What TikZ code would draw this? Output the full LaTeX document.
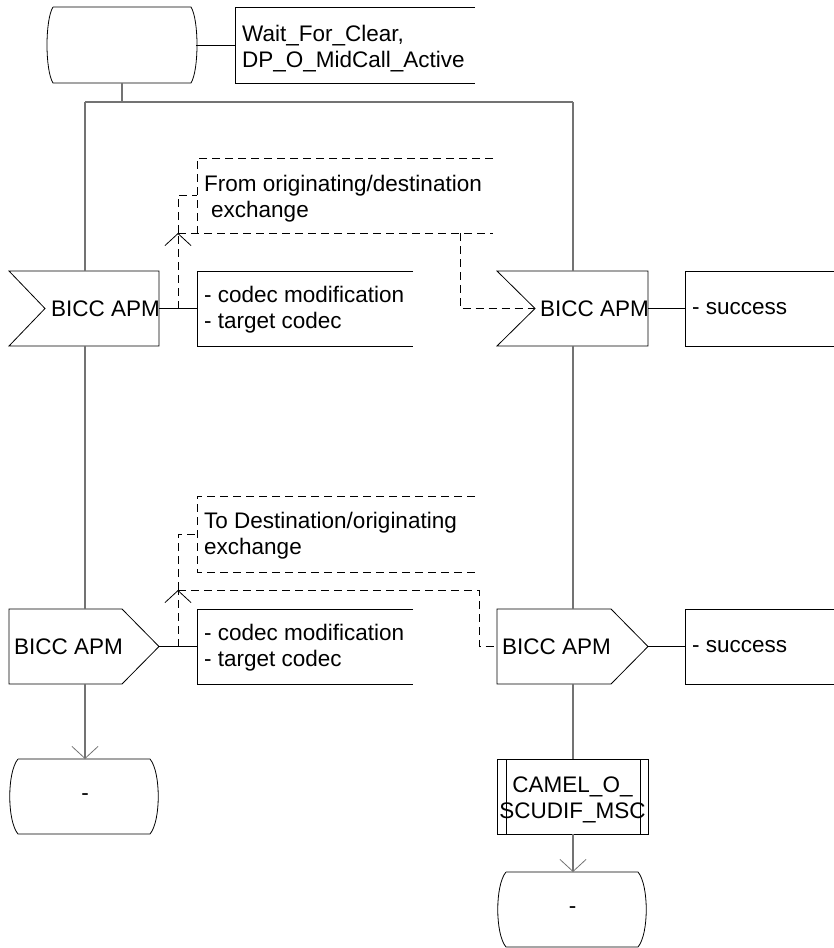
\documentclass[tikz,border=0pt]{standalone}
\usepackage{fontspec}
\setmainfont{Liberation Sans}
\usetikzlibrary{arrows.meta}
\begin{document}
\begin{tikzpicture}[x=1pt,y=-1pt,
  shp/.style={draw=black,line width=0.8pt,line join=miter},
  flow/.style={draw=black!55,line width=1.1pt},
  link/.style={draw=black,line width=0.8pt},
  dsh/.style={draw=black,line width=0.8pt,dash pattern=on 8pt off 5pt},
  barb/.style={-{Straight Barb[length=12pt,width=26pt,line width=0.8pt]}},
  txt/.style={font=\fontsize{22.5}{26}\selectfont,inner sep=0pt,anchor=west,align=left},
  ctxt/.style={font=\fontsize{22.5}{26}\selectfont,inner sep=0pt,align=center}]
\useasboundingbox (0,0) rectangle (834,948);

% ---------- top start state ----------
\draw[shp] (53,7) -- (191,7) .. controls (199,20) and (199,70) .. (191,83)
  -- (53,83) .. controls (45,70) and (45,20) .. (53,7);
\coordinate (s0b) at (122,83);
\coordinate (s0r) at (196,45);
\draw[shp] (475,7) -- (235,7) -- (235,83) -- (475,83);
\coordinate (c0l) at (235,45);
\node[txt] (c0t) at (242,48.5) {Wait\_For\_Clear,\\DP\_O\_MidCall\_Active};
\draw[link] (s0r) -- (c0l);

\coordinate (jn) at (122,102);
\coordinate (jl) at (85,102);
\coordinate (jr) at (573,102);
\draw[flow] (s0b) -- (jn);
\draw[flow] (jl) -- (jr);

% ---------- left branch ----------
\draw[shp] (9,271) -- (159,271) -- (159,346) -- (9,346) -- (45,308.5) -- cycle;
\coordinate (i1t) at (85,271);
\coordinate (i1b) at (85,346);
\coordinate (i1r) at (159,308.5);
\node[txt] (i1x) at (51,308.5) {BICC APM};
\draw[flow] (jl) -- (i1t);
\draw[shp] (413,271) -- (197,271) -- (197,346) -- (413,346);
\coordinate (c1l) at (197,308.5);
\node[txt] (c1x) at (204,310) {- codec modification\\- target codec};
\draw[link] (i1r) -- (c1l);

\draw[shp] (9,609) -- (122,609) -- (159,646.5) -- (122,684) -- (9,684) -- cycle;
\coordinate (o1t) at (85,609);
\coordinate (o1b) at (85,684);
\coordinate (o1r) at (159,646.5);
\node[txt] (o1x) at (14,646.5) {BICC APM};
\draw[flow] (i1b) -- (o1t);
\draw[shp] (413,609) -- (197,609) -- (197,684) -- (413,684);
\coordinate (c2l) at (197,646.5);
\node[txt] (c2x) at (204,648) {- codec modification\\- target codec};
\draw[link] (o1r) -- (c2l);

\draw[shp] (18,759) -- (150,759) .. controls (161,772) and (161,821) .. (150,834)
  -- (18,834) .. controls (7,821) and (7,772) .. (18,759);
\coordinate (e1t) at (85,759);
\node[ctxt] (e1x) at (85,797) {-};
\draw[flow,barb] (o1b) -- (e1t);

% ---------- right branch ----------
\draw[shp] (497,271) -- (648,271) -- (648,346) -- (497,346) -- (535,308.5) -- cycle;
\coordinate (i2t) at (573,271);
\coordinate (i2b) at (573,346);
\coordinate (i2r) at (648,308.5);
\coordinate (i2n) at (535,308.5);
\node[txt] (i2x) at (540,308.5) {BICC APM};
\draw[flow] (jr) -- (i2t);
\draw[shp] (834,271) -- (685,271) -- (685,346) -- (834,346);
\coordinate (c3l) at (685,308.5);
\node[txt] (c3x) at (692,308.5) {- success};
\draw[link] (i2r) -- (c3l);

\draw[shp] (497,609) -- (611,609) -- (648,646.5) -- (611,684) -- (497,684) -- cycle;
\coordinate (o2t) at (573,609);
\coordinate (o2b) at (573,684);
\coordinate (o2r) at (648,646.5);
\coordinate (o2l) at (497,646.5);
\node[txt] (o2x) at (502,646.5) {BICC APM};
\draw[flow] (i2b) -- (o2t);
\draw[shp] (834,609) -- (685,609) -- (685,684) -- (834,684);
\coordinate (c4l) at (685,646.5);
\node[txt] (c4x) at (692,646.5) {- success};
\draw[link] (o2r) -- (c4l);

\draw[shp] (497,759) rectangle (648,834);
\draw[shp] (506,759) -- (506,834);
\draw[shp] (640,759) -- (640,834);
\coordinate (p1t) at (573,759);
\coordinate (p1b) at (573,834);
\node[ctxt] (p1x) at (572.5,799.5) {CAMEL\_O\_\\SCUDIF\_MSC};
\draw[flow] (o2b) -- (p1t);

\draw[shp] (506,872) -- (638,872) .. controls (649,885) and (649,934) .. (638,947)
  -- (506,947) .. controls (495,934) and (495,885) .. (506,872);
\coordinate (e2t) at (573,872);
\node[ctxt] (e2x) at (572.5,910) {-};
\draw[flow,barb] (p1b) -- (e2t);

% ---------- upper dashed text extension ----------
\draw[dsh] (493,158) -- (197,158) -- (197,233);
\node[txt] (t1x) at (204,198.5) {From originating/destination\\\hspace{7pt}exchange};
\coordinate (a1) at (178,233);
\coordinate (a1b) at (178,308.5);
\coordinate (a1k) at (178,195);
\coordinate (a1m) at (197,195);
\coordinate (a1e) at (493,233);
\coordinate (a1v) at (460,233);
\coordinate (a1w) at (460,308.5);
\draw[dsh,barb] (a1b) -- (a1);
\draw[dsh] (a1) -- (a1k) -- (a1m);
\draw[dsh] (a1) -- (a1e);
\draw[dsh] (a1v) -- (a1w) -- (i2n);

% ---------- lower dashed text extension ----------
\draw[dsh] (475,496) -- (197,496) -- (197,572) -- (475,572);
\node[txt] (t2x) at (204,536) {To Destination/originating\\exchange};
\coordinate (a2) at (178,590);
\coordinate (a2b) at (178,646.5);
\coordinate (a2k) at (178,534);
\coordinate (a2m) at (197,534);
\coordinate (a2v) at (479,590);
\coordinate (a2w) at (479,646.5);
\draw[dsh,barb] (a2b) -- (a2);
\draw[dsh] (a2) -- (a2k) -- (a2m);
\draw[dsh] (a2) -- (a2v) -- (a2w) -- (o2l);
\end{tikzpicture}
\end{document}
